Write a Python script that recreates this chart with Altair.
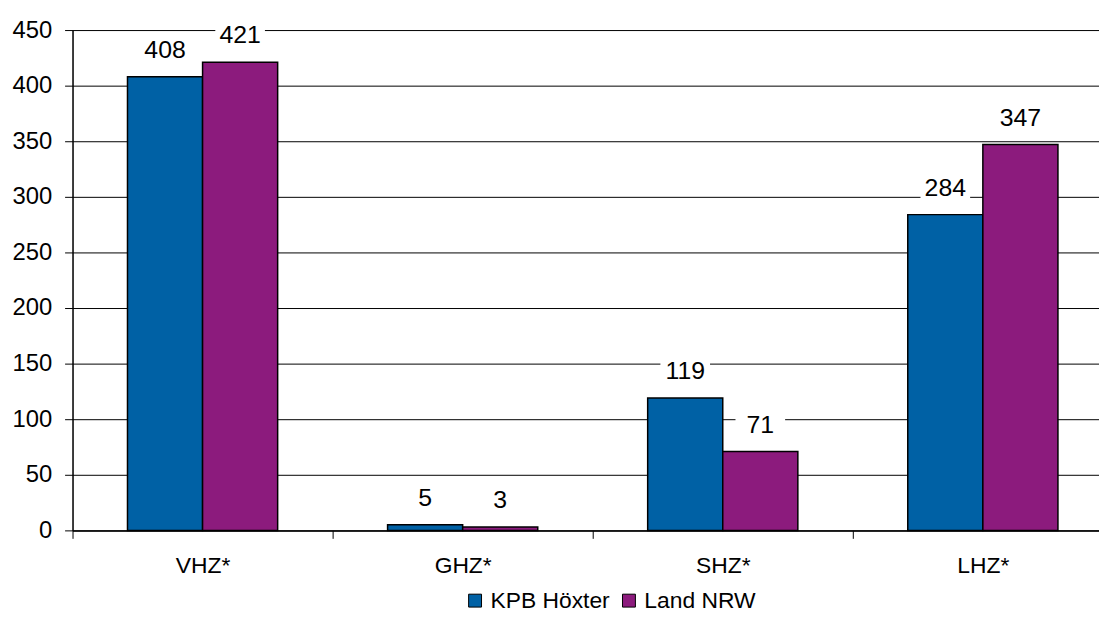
import altair as alt
import pandas as pd

categories = ["VHZ*", "GHZ*", "SHZ*", "LHZ*"]
series = ["KPB Höxter", "Land NRW"]
kpb_values = [408, 5, 119, 284]
nrw_values = [421, 3, 71, 347]
colors = ["#0061A5", "#8C1B7D"]
y_ticks = [0, 50, 100, 150, 200, 250, 300, 350, 400, 450]

rows = []
for i, c in enumerate(categories):
    rows.append({"cat": c, "series": series[0], "value": kpb_values[i]})
    rows.append({"cat": c, "series": series[1], "value": nrw_values[i]})
df = pd.DataFrame(rows)

FONT = "Liberation Sans"

x = alt.X(
    "cat:N",
    sort=categories,
    scale=alt.Scale(range=[0, 1048], paddingInner=0, paddingOuter=0),
    axis=alt.Axis(
        title=None, labelAngle=0, labelFontSize=23, labelPadding=16,
        tickSize=8, tickBand="extent", domainColor="black", tickColor="black",
        labelColor="black", grid=False, labelFont=FONT, domainWidth=1.5, tickWidth=1,
    ),
)
xo = alt.XOffset(
    "series:N", sort=series,
    scale=alt.Scale(paddingOuter=0.732, paddingInner=0),
)
y = alt.Y(
    "value:Q",
    scale=alt.Scale(domain=[0, 450], nice=False),
    axis=alt.Axis(
        values=y_ticks, title=None, grid=True, gridColor="black", gridWidth=1,
        gridOpacity=1, tickSize=8, labelPadding=13, labelFontSize=24,
        labelFont=FONT, labelColor="black", domainColor="black", tickColor="black",
        domainWidth=1.5,
    ),
)
color = alt.Color(
    "series:N",
    sort=series,
    scale=alt.Scale(domain=series, range=colors),
    legend=alt.Legend(
        orient="none", legendX=394, legendY=563, direction="horizontal",
        title=None, symbolType="square", symbolSize=169,
        symbolStrokeColor="black", symbolStrokeWidth=1, symbolOpacity=1,
        labelFontSize=23, labelFont=FONT, labelColor="black",
        labelOffset=4, columnPadding=7, padding=0,
    ),
)

bars = alt.Chart(df).mark_bar(stroke="black", strokeWidth=1.5).encode(
    x=x, xOffset=xo, y=y, color=color
)
boxes = alt.Chart(df).mark_point(
    shape="M-1,-0.42L1,-0.42L1,0.5L-1,0.5Z",
    filled=True, fill="white", opacity=1, size=2500, yOffset=-27, strokeWidth=0,
).encode(x=x, xOffset=xo, y=y)
labels = alt.Chart(df).mark_text(
    dy=-27, fontSize=25, baseline="middle", color="black", font=FONT
).encode(x=x, xOffset=xo, y=y, text="value:Q")

chart = (
    alt.layer(bars, boxes, labels)
    .properties(
        width=1034, height=504,
        autosize=alt.AutoSizeParams(type="none"),
        padding={"left": 65, "top": 20, "right": 0, "bottom": 82},
    )
    .configure_view(stroke=None)
    .configure(font=FONT)
)

chart.save("out.html", embed_options={"renderer": "svg", "actions": False})
